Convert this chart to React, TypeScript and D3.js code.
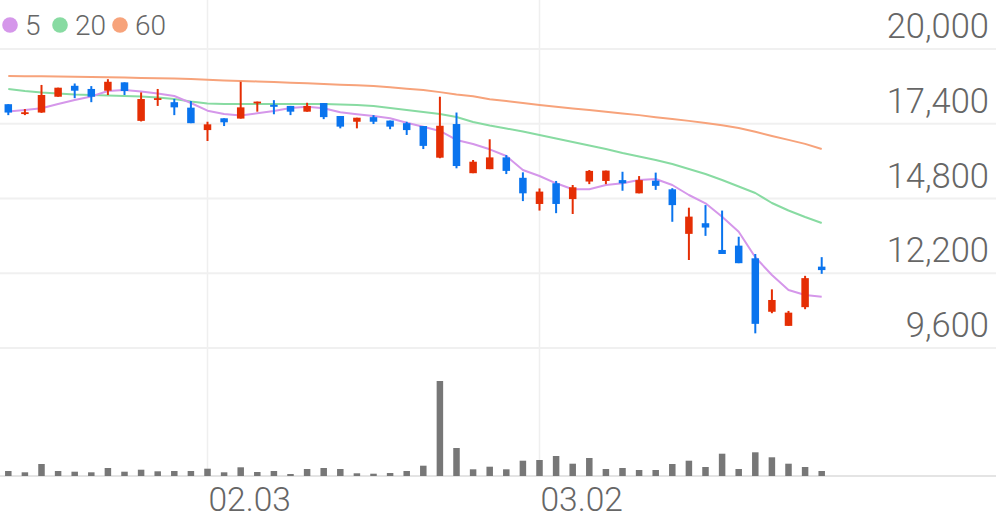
import React from 'react';
import * as d3 from 'd3';

const W = 996;
const H = 519;

const dates = [
  '01.14', '01.15', '01.16', '01.17', '01.20', '01.21', '01.22', '01.23', '01.28', '01.29',
  '01.30', '01.31', '02.03', '02.04', '02.05', '02.06', '02.07', '02.10', '02.11', '02.12',
  '02.13', '02.14', '02.17', '02.18', '02.19', '02.20', '02.21', '02.24', '02.25', '02.26',
  '02.27', '02.28', '03.02', '03.03', '03.04', '03.05', '03.06', '03.09', '03.10', '03.11',
  '03.12', '03.13', '03.16', '03.17', '03.18', '03.19', '03.20', '03.23', '03.24', '03.25',
];

const opens = [
  18080, 17750, 17790, 18340, 18720, 18610, 18550, 18840, 17500, 18230,
  18150, 17960, 17180, 17590, 17580, 18120, 18060, 18020, 17820, 18120,
  17670, 17470, 17630, 17510, 17420, 17320, 16220, 17390, 15680, 15820,
  16230, 15520, 14610, 15330, 14780, 15390, 15410, 15440, 14980, 15420,
  15120, 13570, 13940, 13010, 13160, 12720, 10860, 10370, 11020, 12430,
];
const highs = [
  18080, 17910, 18750, 18654, 18800, 18710, 18950, 18840, 18490, 18610,
  18260, 18190, 17470, 17590, 18860, 18170, 18220, 18020, 18130, 18120,
  17670, 17610, 17700, 17510, 17470, 17320, 18340, 17790, 16140, 16860,
  16310, 15710, 15150, 15410, 15270, 15790, 15770, 15730, 15580, 15700,
  15160, 14480, 14570, 14380, 13470, 12870, 11640, 10890, 12110, 12760,
];
const lows = [
  17700, 17700, 17780, 18340, 18290, 18150, 18400, 18400, 17480, 18020,
  17700, 17420, 16800, 17320, 17580, 17820, 17730, 17700, 17820, 17560,
  17240, 17240, 17390, 17210, 17010, 16520, 16200, 15850, 15680, 15820,
  15650, 14710, 14380, 14290, 14260, 15300, 15300, 15070, 14980, 15100,
  13990, 12660, 13500, 12870, 12550, 10110, 10810, 10370, 10950, 12180,
];
const closes = [
  17790, 17800, 18400, 18654, 18550, 18340, 18860, 18540, 18260, 18290,
  17970, 17420, 17380, 17450, 17970, 18170, 17990, 17820, 18020, 17630,
  17300, 17610, 17470, 17300, 17180, 16630, 17330, 15930, 16080, 16230,
  15760, 14980, 15040, 14610, 15190, 15760, 15770, 15330, 15440, 15240,
  14570, 14170, 13790, 12870, 12550, 10440, 11270, 10830, 12030, 12310,
];
const volumes = [
  100000, 74000, 240000, 100000, 86000, 74000, 160000, 86000, 126000, 94000,
  100000, 100000, 146000, 74000, 174000, 80000, 100000, 40000, 140000, 160000,
  140000, 54000, 46000, 60000, 100000, 206000, 1900000, 560000, 134000, 186000,
  134000, 306000, 320000, 400000, 246000, 360000, 140000, 160000, 120000, 120000,
  240000, 306000, 180000, 446000, 140000, 474000, 374000, 246000, 180000, 100000,
];
const ma5 = [
  17826, 17878, 17938, 18087, 18226, 18348, 18539, 18574, 18522, 18452,
  18365, 18122, 17854, 17739, 17687, 17764, 17844, 17948, 17993, 17938,
  17798, 17729, 17670, 17590, 17437, 17298, 17148, 16835, 16696, 16511,
  16278, 15791, 15583, 15329, 15120, 15120, 15270, 15329, 15444, 15479,
  15270, 14922, 14633, 14167, 13646, 12755, 12140, 11618, 11444, 11385,
];
const ma20 = [
  18609, 18539, 18487, 18452, 18417, 18400, 18383, 18365, 18348, 18313,
  18261, 18174, 18104, 18087, 18087, 18087, 18087, 18087, 18087, 18087,
  18070, 18052, 18017, 17948, 17878, 17809, 17739, 17635, 17461, 17339,
  17235, 17130, 17009, 16887, 16765, 16644, 16522, 16383, 16261, 16139,
  16000, 15826, 15652, 15444, 15218, 14991, 14644, 14383, 14157, 13948,
];
const ma60 = [
  19060, 19055, 19050, 19040, 19035, 19025, 19015, 19005, 18995, 18985,
  18975, 18955, 18930, 18905, 18890, 18870, 18850, 18830, 18810, 18785,
  18760, 18735, 18710, 18670, 18620, 18575, 18500, 18420, 18360, 18250,
  18190, 18120, 18050, 17990, 17930, 17880, 17820, 17760, 17700, 17630,
  17565, 17500, 17430, 17345, 17250, 17120, 16975, 16840, 16700, 16520,
];
const priceTicks = [9600, 12200, 14800, 17400, 20000];
const maNames = ['5', '20', '60'];
const maColors = ['#d597ea', '#88dba2', '#f7a37b'];

const UP = '#e52e04';
const DOWN = '#0a74ee';
const FONT = 'Roboto, "Noto Sans", sans-serif';

export default function App() {
  const slots = d3.range(60);
  const x = d3.scaleBand<number>().domain(slots).range([0, W]);
  const step = x.step();
  const cx = (i: number) => (x(i) as number) + step / 2;
  const y = d3.scaleLinear().domain([9600, 20000]).range([348, 49]);
  const yv = d3.scaleLinear().domain([0, 2560000]).range([476, 348]);

  const monthStarts = dates
    .map((d, i) => ({ d, i }))
    .filter((o) => o.i > 0 && o.d.slice(0, 2) !== dates[o.i - 1].slice(0, 2));

  const line = d3
    .line<number>()
    .x((_, i) => cx(i))
    .y((v) => y(v))
    .curve(d3.curveLinear);

  const bodyW = 7.5;
  const volW = 6.5;

  return (
    <svg
      width={W}
      height={H}
      style={{ position: 'absolute', left: 0, top: 0, background: '#fff' }}
    >
      {/* vertical grid */}
      {monthStarts.map((o) => (
        <line
          key={'vg' + o.i}
          x1={cx(o.i)}
          x2={cx(o.i)}
          y1={0}
          y2={476}
          stroke="#efefef"
          strokeWidth={1.5}
        />
      ))}
      {/* horizontal grid */}
      {priceTicks.map((t) => (
        <line
          key={'hg' + t}
          x1={0}
          x2={W}
          y1={y(t)}
          y2={y(t)}
          stroke="#f0f0f0"
          strokeWidth={2}
        />
      ))}
      <line x1={0} x2={W} y1={476} y2={476} stroke="#e4e4e4" strokeWidth={2} />

      {/* price labels */}
      {priceTicks.map((t) => (
        <text
          key={'pl' + t}
          x={989}
          y={y(t) - 11}
          textAnchor="end"
          fontFamily={FONT}
          fontWeight={300}
          fontSize={34.5}
          fill="#666"
        >
          {d3.format(',')(t)}
        </text>
      ))}

      {/* date labels */}
      {monthStarts.map((o) => (
        <text
          key={'dl' + o.i}
          x={cx(o.i) + 1}
          y={511}
          fontFamily={FONT}
          fontWeight={300}
          fontSize={33.5}
          fill="#666"
        >
          {o.d}
        </text>
      ))}

      {/* volume */}
      {volumes.map((v, i) => (
        <rect
          key={'v' + i}
          x={cx(i) - volW / 2}
          y={yv(v)}
          width={volW}
          height={476 - yv(v)}
          fill="#777"
        />
      ))}

      {/* moving averages */}
      {[ma60, ma20, ma5].map((arr, k) => (
        <path
          key={'ma' + k}
          d={line(arr) || ''}
          fill="none"
          stroke={maColors[2 - k]}
          strokeWidth={2}
          strokeLinejoin="round"
        />
      ))}

      {/* candles */}
      {opens.map((o, i) => {
        const c = closes[i];
        const col = c >= o ? UP : DOWN;
        const top = y(Math.max(o, c));
        const bot = y(Math.min(o, c));
        const h = Math.max(bot - top, 1.8);
        return (
          <g key={'c' + i}>
            <line
              x1={cx(i)}
              x2={cx(i)}
              y1={y(highs[i])}
              y2={y(lows[i])}
              stroke={col}
              strokeWidth={2}
            />
            <rect x={cx(i) - bodyW / 2} y={top} width={bodyW} height={h} fill={col} />
          </g>
        );
      })}

      {/* legend */}
      {maNames.map((n, k) => {
        const offs = [10, 60, 120];
        return (
          <g key={'lg' + k}>
            <circle cx={offs[k]} cy={25} r={7.8} fill={maColors[k]} />
            <text
              x={offs[k] + 15}
              y={35}
              fontFamily={FONT}
              fontWeight={300}
              fontSize={28}
              fill="#666"
            >
              {n}
            </text>
          </g>
        );
      })}
    </svg>
  );
}
